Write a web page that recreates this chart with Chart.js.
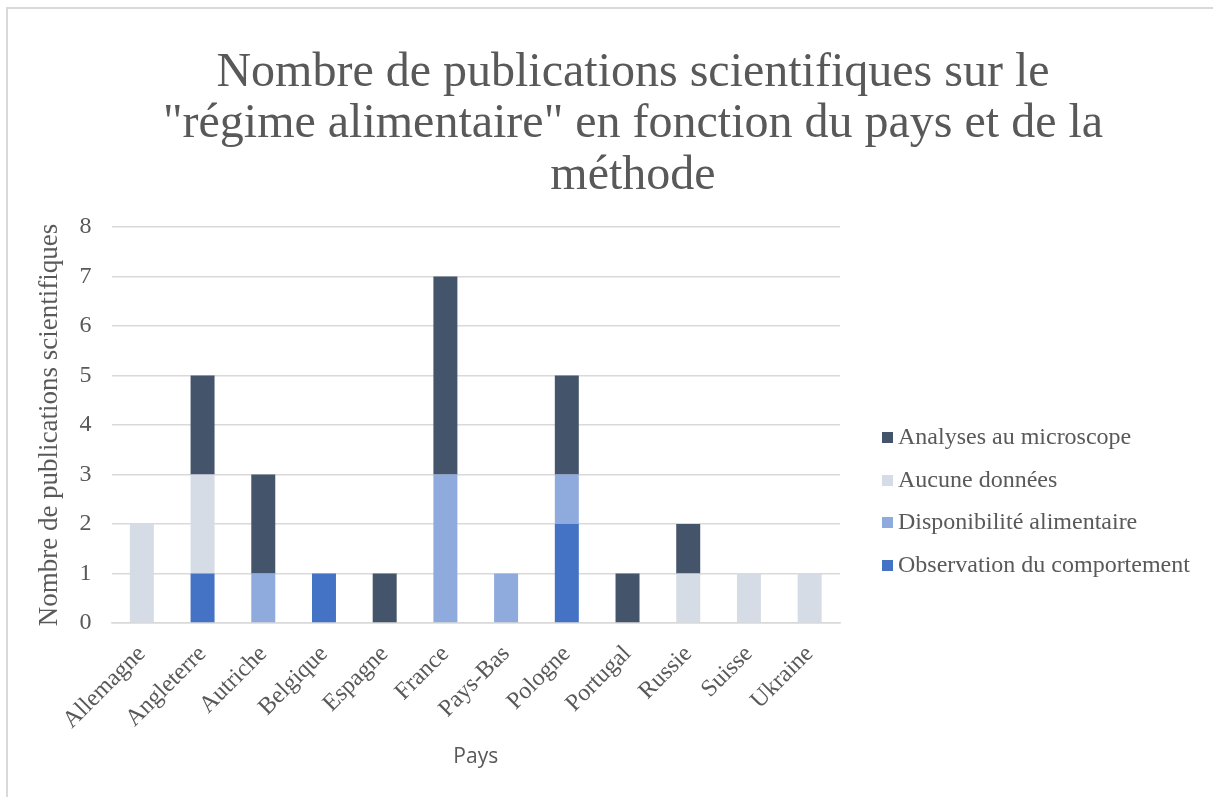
<html>
<head>
<meta charset="utf-8">
<title>Nombre de publications scientifiques</title>
<style>
  body { margin: 0; background: #fff; overflow: hidden; }
  #frame { position: absolute; left: 6px; top: 7px; width: 1300px; height: 900px; border: 2px solid #D9D9D9; }
  #chart { position: absolute; left: 0; top: 0; }
  #legend { position: absolute; left: 882px; top: 416px; font-family: "Liberation Serif", serif; font-size: 24px; color: #595959; }
  #legend div { height: 42.7px; line-height: 40px; white-space: nowrap; }
  #legend span { display: inline-block; width: 11px; height: 11px; margin-right: 5px; vertical-align: 1px; }
</style>
</head>
<body>
<div id="frame"></div>
<canvas id="chart" width="1213" height="797"></canvas>
<div id="legend"></div>
<script src="https://cdn.jsdelivr.net/npm/chart.js@4/dist/chart.umd.min.js"></script>
<script>
    var pays = ["Allemagne", "Angleterre", "Autriche", "Belgique", "Espagne", "France",
                "Pays-Bas", "Pologne", "Portugal", "Russie", "Suisse", "Ukraine"];

    // valeurs, une liste par méthode
    var observation   = [0, 1, 0, 1, 0, 0, 0, 2, 0, 0, 0, 0];
    var disponibilite = [0, 0, 1, 0, 0, 3, 1, 1, 0, 0, 0, 0];
    var aucune        = [2, 2, 0, 0, 0, 0, 0, 0, 0, 1, 1, 1];
    var analyses      = [0, 2, 2, 0, 1, 4, 0, 2, 1, 1, 0, 0];

    var yTicks = [0, 1, 2, 3, 4, 5, 6, 7, 8];

    var grey = "#595959";
    var serif = "'Liberation Serif', 'Times New Roman', serif";

    // ordre d'empilement : du bas vers le haut
    var series = [
        {label: "Observation du comportement", data: observation, color: "#4472C4"},
        {label: "Disponibilité alimentaire", data: disponibilite, color: "#8FAADC"},
        {label: "Aucune données", data: aucune, color: "#D6DCE5"},
        {label: "Analyses au microscope", data: analyses, color: "#44546A"}
    ];

    var datasets = series.map(function (s) {
        return {
            label: s.label,
            data: s.data,
            backgroundColor: s.color,
            borderWidth: 0,
            barPercentage: 0.395,
            categoryPercentage: 1
        };
    });

    // légende à droite, ordre inverse comme dans Excel
    var legend = document.getElementById("legend");
    series.slice().reverse().forEach(function (s) {
        var row = document.createElement("div");
        var box = document.createElement("span");
        box.style.background = s.color;
        row.appendChild(box);
        row.appendChild(document.createTextNode(s.label));
        legend.appendChild(row);
    });

    var ctx = document.getElementById("chart").getContext("2d");
    new Chart(ctx, {
        type: "bar",
        data: {labels: pays, datasets: datasets},
        options: {
            responsive: false,
            animation: false,
            layout: {padding: {left: 53, right: 0, top: 0, bottom: 0}},
            plugins: {
                legend: {display: false},
                tooltip: {enabled: false},
                title: {
                    display: true,
                    text: ["Nombre de publications scientifiques sur le",
                           "\"régime alimentaire\" en fonction du pays et de la",
                           "méthode"],
                    color: grey,
                    font: {family: serif, size: 48, weight: "normal", lineHeight: 1.08},
                    padding: {top: 47, bottom: 24.5}
                }
            },
            scales: {
                x: {
                    stacked: true,
                    afterFit: function (axis) { axis.height = 174; },
                    grid: {display: false, drawTicks: false},
                    border: {display: true, color: "#D9D9D9", width: 1.5},
                    ticks: {
                        color: grey,
                        font: {family: serif, size: 24},
                        maxRotation: 45,
                        minRotation: 45,
                        autoSkip: false,
                        padding: 17
                    },
                    title: {
                        display: true,
                        text: "Pays",
                        color: grey,
                        font: {family: "'Open Sans', sans-serif", size: 21},
                        padding: {top: 0, bottom: 27}
                    }
                },
                y: {
                    stacked: true,
                    min: 0,
                    max: 8,
                    afterBuildTicks: function (axis) {
                        axis.ticks = yTicks.map(function (v) { return {value: v}; });
                    },
                    afterFit: function (axis) { axis.width = 58.5; },
                    grid: {color: "#D9D9D9", lineWidth: 1.5, drawTicks: false},
                    border: {display: false},
                    ticks: {
                        color: grey,
                        font: {family: serif, size: 24},
                        padding: 20
                    },
                    title: {
                        display: true,
                        text: "Nombre de publications scientifiques",
                        color: grey,
                        font: {family: serif, size: 27},
                        padding: {top: -19, bottom: 0}
                    }
                },
                // axe vide à droite : réserve la place de la légende
                droite: {
                    position: "right",
                    display: true,
                    afterFit: function (axis) { axis.width = 373; },
                    grid: {display: false, drawTicks: false},
                    border: {display: false},
                    ticks: {display: false}
                }
            }
        }
    });
</script>
</body>
</html>
